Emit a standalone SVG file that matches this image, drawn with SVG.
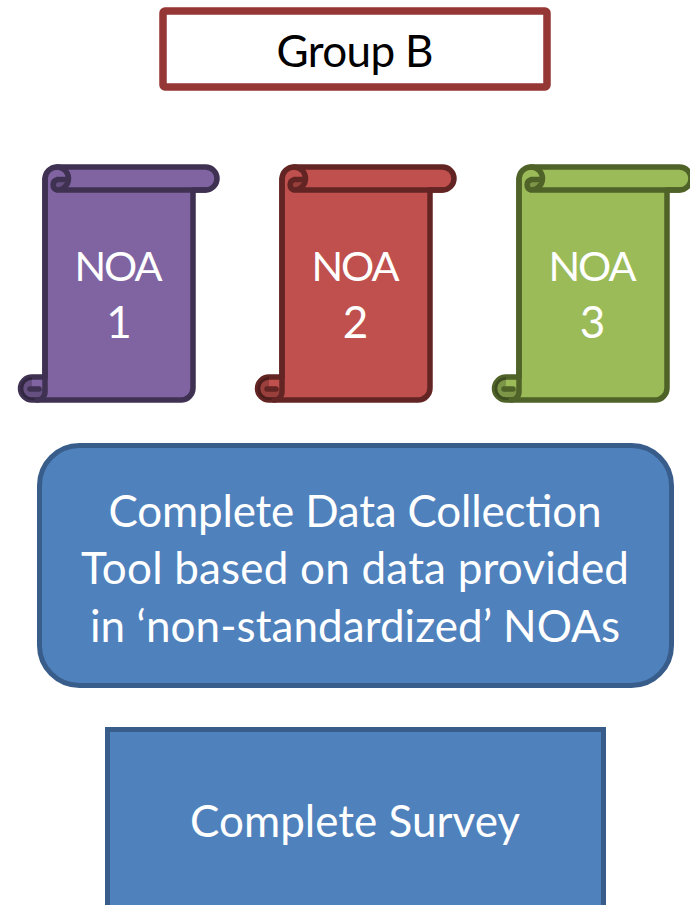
<svg xmlns="http://www.w3.org/2000/svg" width="690" height="905" viewBox="0 0 690 905">
<style>
.t{font-family:"Lato","Carlito","Liberation Sans",sans-serif;text-anchor:middle;fill:#fff;font-size:44px}
.n{font-size:41.500px}
.box{fill:#4f81bd;stroke:#385d8a;stroke-width:5}
.s{stroke-width:5.500;stroke-linejoin:round;stroke-linecap:round}
.l{fill:none}
.shade{stroke:none;fill:#000;fill-opacity:.2}
</style>
<defs>
<g id="scroll" class="s">
<path d="M45 179A12 12 0 0 1 57 167H205.500A11.500 11.500 0 0 1 205.500 190H193V388A12 12 0 0 1 181 400H32A11.500 11.500 0 0 1 32 377H45Z"/>
<path class="shade" d="M51 185A6 6 0 0 1 57 179.500H62A6 6 0 0 1 57 190A5.500 5.500 0 0 1 51 185ZM32 377V389H45V392A8 8 0 0 1 37 400H32A11.500 11.500 0 0 1 32 377Z"/>
<path class="l" d="M57 167A11.500 11.500 0 0 1 57 190H205.500M57 190A5.500 5.500 0 0 1 57 179.500H68M45 179V392A8 8 0 0 1 37 400M30 389H39"/>
</g>
</defs>
<g id="title">
<rect x="163" y="11" width="384" height="76" rx="2" fill="#fff" stroke="#953735" stroke-width="7.500"/>
<text class="t" x="355" y="67" textLength="157" style="fill:#000">Group B</text>
</g>
<g id="noa1">
<use href="#scroll" fill="#8064a2" stroke="#3f3151"/>
<text class="t n" x="118.500" y="281" textLength="88">NOA</text>
<text class="t" x="119" y="338">1</text>
</g>
<g id="noa2">
<use href="#scroll" x="237" fill="#c0504d" stroke="#632523"/>
<text class="t n" x="355.500" y="281" textLength="88">NOA</text>
<text class="t" x="355.500" y="338">2</text>
</g>
<g id="noa3">
<use href="#scroll" x="474" fill="#9bbb59" stroke="#4f6228"/>
<text class="t n" x="592.500" y="281" textLength="88">NOA</text>
<text class="t" x="592.500" y="338">3</text>
</g>
<g id="collect">
<rect class="box" x="39.500" y="445.500" width="632" height="240" rx="40"/>
<text class="t" x="355" y="527" textLength="493">Complete Data Collection</text>
<text class="t" x="355" y="584" textLength="548">Tool based on data provided</text>
<text class="t" x="355" y="642" textLength="530">in ‘non-standardized’ NOAs</text>
</g>
<g id="survey">
<rect class="box" x="107.500" y="729.500" width="496" height="190"/>
<text class="t" x="355" y="837" textLength="330">Complete Survey</text>
</g>
<g id="connectors"/>
</svg>
